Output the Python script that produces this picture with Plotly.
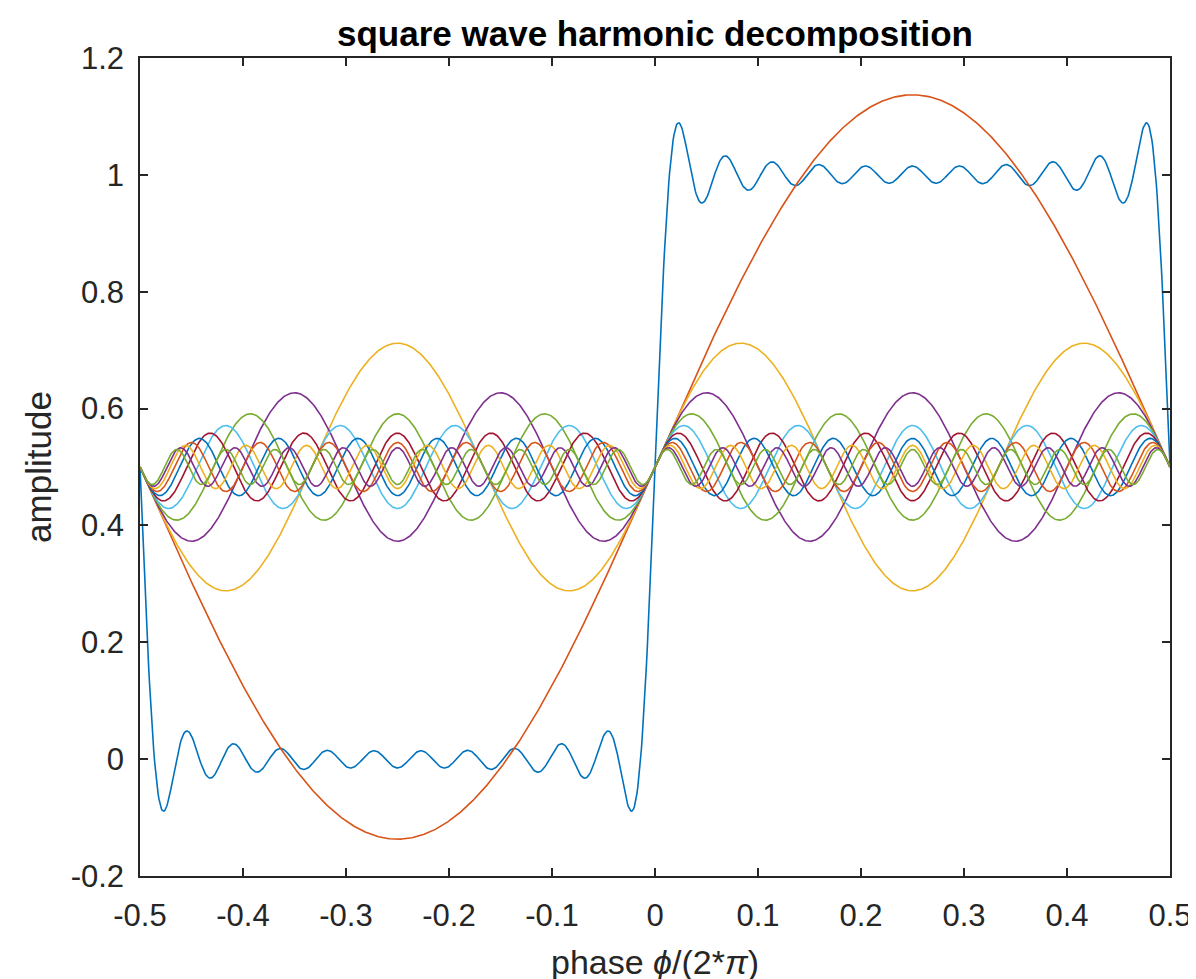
import numpy as np
import plotly.graph_objects as go

# Odd harmonic orders in the decomposition (11 harmonics, 1..21)
harmonic_orders = [1, 3, 5, 7, 9, 11, 13, 15, 17, 19, 21]
# Peak value of each harmonic curve (baseline 0.5)
harmonic_peaks = [1.137, 0.712, 0.627, 0.591, 0.571, 0.558, 0.549, 0.542, 0.537, 0.533, 0.530]
baseline = 0.5

# MATLAB default colour order
colors = ["#0072BD", "#D95319", "#EDB120", "#7E2F8E", "#77AC30", "#4DBEEE", "#A2142F"]

x_ticks = [-0.5, -0.4, -0.3, -0.2, -0.1, 0, 0.1, 0.2, 0.3, 0.4, 0.5]
x_ticklabels = ["-0.5", "-0.4", "-0.3", "-0.2", "-0.1", "0", "0.1", "0.2", "0.3", "0.4", "0.5"]
y_ticks = [-0.2, 0, 0.2, 0.4, 0.6, 0.8, 1.0, 1.2]
y_ticklabels = ["-0.2", "0", "0.2", "0.4", "0.6", "0.8", "1", "1.2"]

phase = np.linspace(-0.5, 0.5, 1201)
harmonics = [(p - baseline) * np.sin(2 * np.pi * k * phase) for k, p in zip(harmonic_orders, harmonic_peaks)]
total = baseline + np.sum(harmonics, axis=0)

fig = go.Figure()
fig.add_trace(go.Scatter(x=phase, y=total, mode="lines",
                         line=dict(color=colors[0], width=1.6), showlegend=False))
for i, h in enumerate(harmonics):
    fig.add_trace(go.Scatter(x=phase, y=baseline + h, mode="lines",
                             line=dict(color=colors[(i + 1) % len(colors)], width=1.6),
                             showlegend=False))

axis_color = "#262626"
fig.update_layout(
    width=1196, height=979,
    margin=dict(l=132, r=25, t=50, b=108),
    paper_bgcolor="white", plot_bgcolor="white",
    font=dict(family="Liberation Sans, Arial, sans-serif", color=axis_color),
    title=dict(text="<b>square wave harmonic decomposition</b>",
               font=dict(size=35, color="black"),
               x=0.5, xanchor="center", xref="paper", y=0.974, yanchor="middle"),
    xaxis=dict(range=[-0.5, 0.5], tickvals=x_ticks, ticktext=x_ticklabels,
               showgrid=False, zeroline=False, showline=True, linecolor=axis_color,
               linewidth=1.5, mirror="allticks", ticks="inside", ticklen=8,
               tickwidth=1.5, tickcolor=axis_color, tickfont=dict(size=31),
               ticklabelstandoff=11,
               title=dict(text="phase <i>ϕ</i>/(2*<i>π</i>)", font=dict(size=34), standoff=18)),
    yaxis=dict(range=[-0.2, 1.2], tickvals=y_ticks, ticktext=y_ticklabels,
               showgrid=False, zeroline=False, showline=True, linecolor=axis_color,
               linewidth=1.5, mirror="allticks", ticks="inside", ticklen=8,
               tickwidth=1.5, tickcolor=axis_color, tickfont=dict(size=31),
               ticklabelstandoff=8,
               title=dict(text="amplitude", font=dict(size=35), standoff=8)),
)

fig.write_html("out.html")
